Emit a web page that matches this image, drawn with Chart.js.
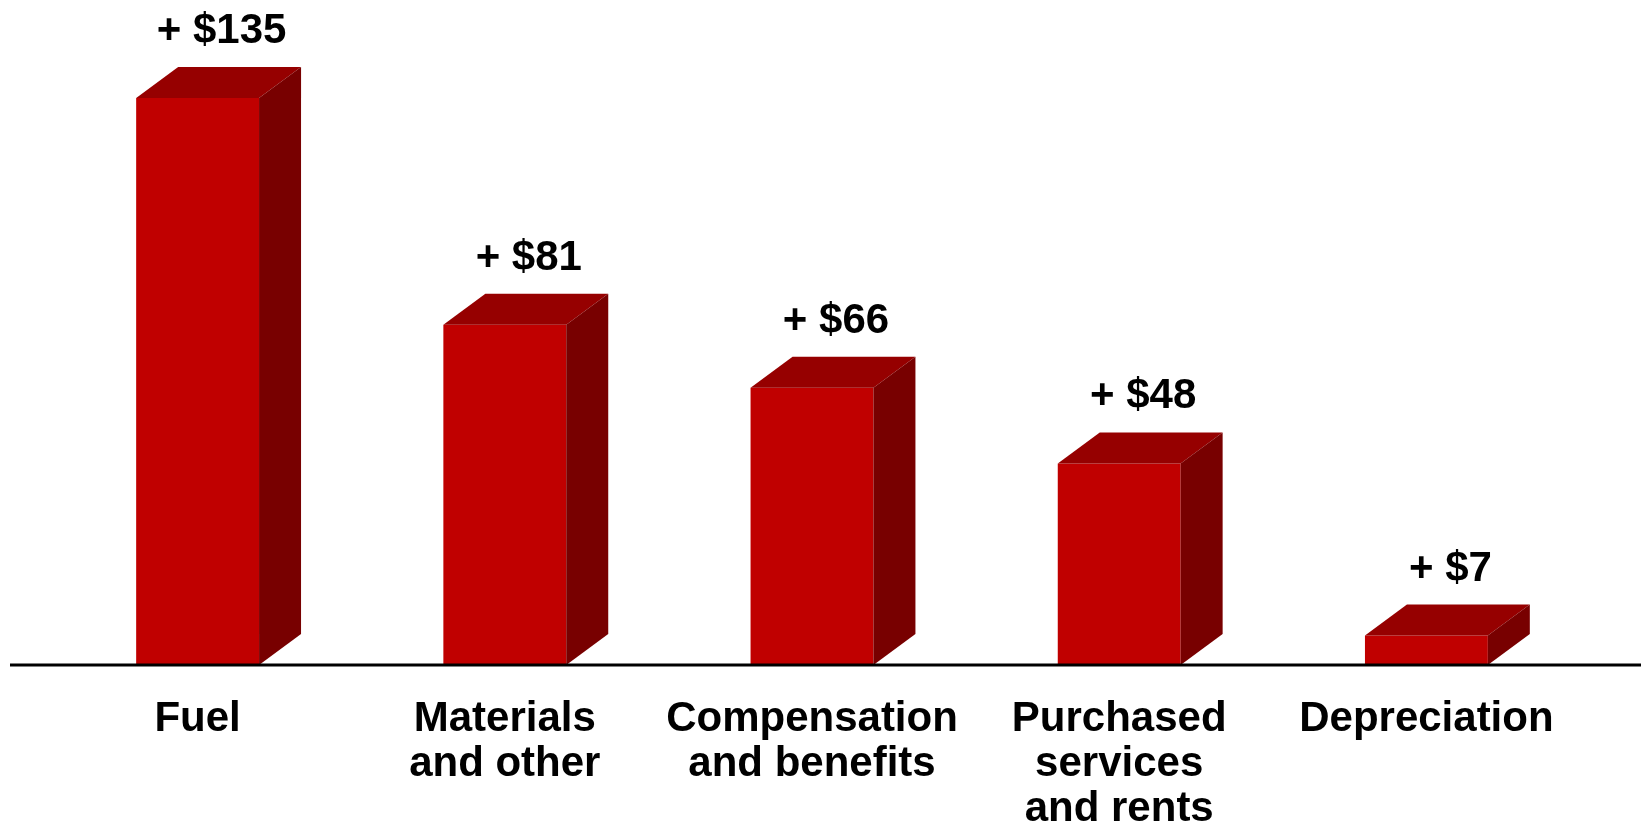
<!DOCTYPE html>
<html>
<head>
<meta charset="utf-8">
<script src="https://cdn.jsdelivr.net/npm/chart.js@4/dist/chart.umd.min.js"></script>
<style>
  html, body { margin: 0; padding: 0; background: #fff; }
  #wrap { width: 1649px; height: 826px; }
</style>
</head>
<body>
<div id="wrap"><canvas id="chart"></canvas></div>
<script>
const categories = [
  "Fuel",
  ["Materials", "and other"],
  ["Compensation", "and benefits"],
  ["Purchased", "services", "and rents"],
  "Depreciation"
];
const increases = [135, 81, 66, 48, 7];

const FONT = "'Liberation Sans', Arial, sans-serif";
const FRONT = "#c00000";
const TOP = "#960000";
const SIDE = "#780000";
const DEPTH_X = 42;
const DEPTH_Y = 31;

// draws the top and side faces so the bars look like boxes
const boxes = {
  id: "boxes",
  afterDatasetsDraw(chart) {
    const ctx = chart.ctx;
    chart.getDatasetMeta(0).data.forEach((bar) => {
      const left = bar.x - bar.width / 2;
      const right = bar.x + bar.width / 2;
      const top = bar.y;
      const base = bar.base;
      ctx.save();
      ctx.fillStyle = TOP;
      ctx.beginPath();
      ctx.moveTo(left, top);
      ctx.lineTo(right, top);
      ctx.lineTo(right + DEPTH_X, top - DEPTH_Y);
      ctx.lineTo(left + DEPTH_X, top - DEPTH_Y);
      ctx.closePath();
      ctx.fill();
      ctx.fillStyle = SIDE;
      ctx.beginPath();
      ctx.moveTo(right, top);
      ctx.lineTo(right + DEPTH_X, top - DEPTH_Y);
      ctx.lineTo(right + DEPTH_X, base - DEPTH_Y);
      ctx.lineTo(right, base);
      ctx.closePath();
      ctx.fill();
      ctx.restore();
    });
  },
  afterDraw(chart) {
    const ctx = chart.ctx;
    const y0 = chart.scales.y.getPixelForValue(0);
    ctx.save();
    ctx.strokeStyle = "#000";
    ctx.lineWidth = 3;
    ctx.beginPath();
    ctx.moveTo(10, y0);
    ctx.lineTo(chart.width - 8, y0);
    ctx.stroke();

    ctx.fillStyle = "#000";
    ctx.font = "bold 42px " + FONT;
    ctx.textAlign = "center";
    ctx.textBaseline = "alphabetic";
    chart.getDatasetMeta(0).data.forEach((bar, i) => {
      ctx.fillText("+ $" + increases[i], bar.x + 24, bar.y - 55);
    });
    ctx.restore();
  }
};

new Chart(document.getElementById("chart"), {
  type: "bar",
  data: {
    labels: categories,
    datasets: [{
      data: increases,
      backgroundColor: FRONT,
      borderWidth: 0,
      categoryPercentage: 1,
      barPercentage: 0.4
    }]
  },
  options: {
    responsive: true,
    maintainAspectRatio: false,
    animation: false,
    layout: { padding: { left: 44, right: 69, top: 35, bottom: 0 } },
    plugins: { legend: { display: false }, tooltip: { enabled: false } },
    scales: {
      x: {
        grid: { display: false, drawTicks: false },
        border: { display: false },
        ticks: {
          color: "#000",
          padding: 32,
          maxRotation: 0,
          autoSkip: false,
          font: { family: FONT, size: 42, weight: "bold", lineHeight: 1.07 }
        },
        afterFit: (scale) => { scale.height = 161; }
      },
      y: {
        display: false,
        min: 0,
        max: 150
      }
    }
  },
  plugins: [boxes]
});
</script>
</body>
</html>
